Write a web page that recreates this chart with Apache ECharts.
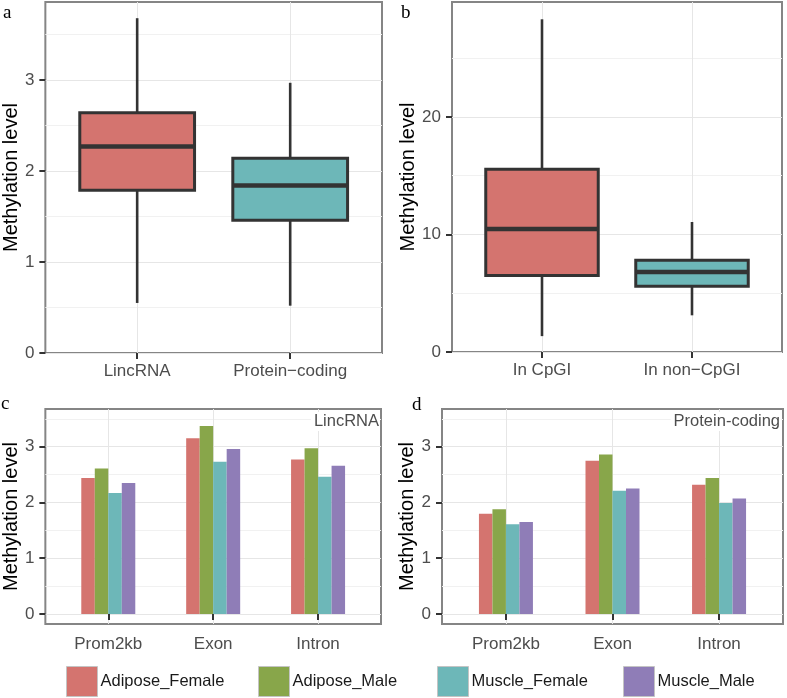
<!DOCTYPE html>
<html>
<head>
<meta charset="utf-8">
<script src="https://cdn.jsdelivr.net/npm/echarts@6/dist/echarts.min.js"></script>
<style>
html,body{margin:0;padding:0;background:#fff;}
#chart{width:787px;height:698px;}
</style>
</head>
<body>
<div id="chart"></div>
<script>
// ---------- data ----------
const aCategories = ['LincRNA', 'Protein\u2212coding'];
const aLow    = [0.55, 0.52];
const aQ1     = [1.79, 1.46];
const aMedian = [2.27, 1.84];
const aQ3     = [2.64, 2.14];
const aHigh   = [3.68, 2.97];

const bCategories = ['In CpGI', 'In non\u2212CpGI'];
const bLow    = [1.35, 3.12];
const bQ1     = [6.5, 5.59];
const bMedian = [10.47, 6.8];
const bQ3     = [15.55, 7.8];
const bHigh   = [28.3, 11.06];

const regions = ['Prom2kb', 'Exon', 'Intron'];
const groups = ['Adipose_Female', 'Adipose_Male', 'Muscle_Female', 'Muscle_Male'];

const lincAdiposeFemale = [2.44, 3.15, 2.77];
const lincAdiposeMale   = [2.61, 3.37, 2.97];
const lincMuscleFemale  = [2.17, 2.73, 2.46];
const lincMuscleMale    = [2.35, 2.96, 2.66];

const pcAdiposeFemale = [1.80, 2.75, 2.32];
const pcAdiposeMale   = [1.88, 2.86, 2.44];
const pcMuscleFemale  = [1.61, 2.21, 1.99];
const pcMuscleMale    = [1.65, 2.25, 2.07];

const aTicks = [0, 1, 2, 3];
const bTicks = [0, 10, 20];
const cdTicks = [0, 1, 2, 3];

// ---------- style ----------
const FONT = 'Liberation Sans, Arial, sans-serif';
const SERIF = 'Liberation Serif, Times New Roman, serif';
const groupColors = ['#D4746F', '#88A64A', '#6DB7B8', '#8F7DB7'];
const boxColors = ['#D4746F', '#6DB7B8'];
const LABEL_COLOR = '#4d4d4d';
const MAJOR = '#e6e6e6';
const MINOR = '#f1f1f1';

const grids = [
  {left: 43, top: 2, width: 339, height: 351},
  {left: 452, top: 2, width: 330, height: 350},
  {left: 43, top: 409, width: 338, height: 215},
  {left: 442, top: 409, width: 341, height: 215}
].map(g => Object.assign(g, {show: true, borderColor: '#858585', borderWidth: 2, backgroundColor: '#fff', containLabel: false}));

const yRanges = [[0, 3.858], [0, 29.77], [-0.179, 3.676], [-0.179, 3.676]];
const yMajor = [aTicks, bTicks, cdTicks, cdTicks];
const yMinor = [[0.5, 1.5, 2.5, 3.5], [5, 15, 25], [0.5, 1.5, 2.5, 3.5], [0.5, 1.5, 2.5, 3.5]];
const yNameGap = [24, 33, 24, 24];
const xLabelMargin = [10, 10, 12, 12];
const xCats = [aCategories, bCategories, regions, regions];

const xAxes = xCats.map((cats, gi) => ({
  type: 'value', gridIndex: gi, min: 0.4, max: cats.length + 0.6,
  axisLine: {show: false},
  axisTick: {show: true, length: 6, customValues: cats.map((c, i) => i + 1), lineStyle: {color: '#333', width: 2}},
  axisLabel: {show: true, customValues: cats.map((c, i) => i + 1), margin: xLabelMargin[gi], fontSize: 17, color: LABEL_COLOR, fontFamily: FONT,
    formatter: v => cats[Math.round(v) - 1] || ''},
  splitLine: {show: true, lineStyle: {color: MAJOR, width: 1}}
}));

const yAxes = [];
for (let gi = 0; gi < 4; gi++) {
  yAxes.push({
    type: 'value', gridIndex: gi, min: yRanges[gi][0], max: yRanges[gi][1],
    name: 'Methylation level', nameLocation: 'middle', nameGap: yNameGap[gi],
    nameTextStyle: {fontSize: 20, color: '#000', fontFamily: FONT},
    axisLine: {show: false},
    axisTick: {show: true, length: 6, customValues: yMajor[gi], lineStyle: {color: '#333', width: 2}},
    axisLabel: {show: true, customValues: yMajor[gi], margin: 11, fontSize: 17, color: LABEL_COLOR, fontFamily: FONT},
    splitLine: {show: true, lineStyle: {color: MAJOR, width: 1}}
  });
}
for (let gi = 0; gi < 4; gi++) {
  yAxes.push({
    type: 'value', gridIndex: gi, min: yRanges[gi][0], max: yRanges[gi][1],
    axisLine: {show: false},
    axisTick: {show: false, customValues: yMinor[gi]},
    axisLabel: {show: false, customValues: yMinor[gi]},
    splitLine: {show: true, lineStyle: {color: MINOR, width: 1}}
  });
}

function boxData(low, q1, med, q3, high) {
  return low.map((v, i) => [i + 1, low[i], q1[i], med[i], q3[i], high[i]]);
}

function boxRender(params, api) {
  const x = api.value(0);
  const lo = api.coord([x, api.value(1)]);
  const q1 = api.coord([x, api.value(2)]);
  const md = api.coord([x, api.value(3)]);
  const q3 = api.coord([x, api.value(4)]);
  const hi = api.coord([x, api.value(5)]);
  const half = api.size([0.75, 0])[0] / 2;
  const stroke = '#333333';
  return {
    type: 'group',
    children: [
      {type: 'line', shape: {x1: lo[0], y1: lo[1], x2: q1[0], y2: q1[1]}, style: {stroke, lineWidth: 2.6}},
      {type: 'line', shape: {x1: q3[0], y1: q3[1], x2: hi[0], y2: hi[1]}, style: {stroke, lineWidth: 2.6}},
      {type: 'rect', shape: {x: q3[0] - half, y: q3[1], width: half * 2, height: q1[1] - q3[1]},
        style: {fill: boxColors[params.dataIndex], stroke, lineWidth: 3}},
      {type: 'line', shape: {x1: md[0] - half, y1: md[1], x2: md[0] + half, y2: md[1]}, style: {stroke, lineWidth: 4.5}}
    ]
  };
}

const series = [
  {type: 'custom', xAxisIndex: 0, yAxisIndex: 0, renderItem: boxRender,
    encode: {x: 0, y: [1, 2, 3, 4, 5]}, data: boxData(aLow, aQ1, aMedian, aQ3, aHigh), silent: true},
  {type: 'custom', xAxisIndex: 1, yAxisIndex: 1, renderItem: boxRender,
    encode: {x: 0, y: [1, 2, 3, 4, 5]}, data: boxData(bLow, bQ1, bMedian, bQ3, bHigh), silent: true}
];

const lincSets = [lincAdiposeFemale, lincAdiposeMale, lincMuscleFemale, lincMuscleMale];
const pcSets = [pcAdiposeFemale, pcAdiposeMale, pcMuscleFemale, pcMuscleMale];
[[lincSets, 2], [pcSets, 3]].forEach(([sets, gi]) => {
  sets.forEach((vals, si) => {
    series.push({
      type: 'bar', name: groups[si], xAxisIndex: gi, yAxisIndex: gi,
      barWidth: 13.5, barGap: '0%',
      itemStyle: {color: groupColors[si]},
      data: vals.map((v, i) => [i + 1, v]),
      silent: true
    });
  });
});

const legendX = [66, 258, 437, 623];
const legends = groups.map((g, i) => ({
  data: [g], left: legendX[i], top: 666, orient: 'horizontal', padding: 0,
  itemWidth: 31, itemHeight: 30, icon: 'rect', selectedMode: false,
  itemStyle: {borderColor: '#c4c4c4', borderWidth: 1},
  textStyle: {fontSize: 16.5, color: '#1a1a1a', fontFamily: FONT, padding: [0, 0, 0, -2]}
}));

const option = {
  animation: false,
  backgroundColor: '#fff',
  grid: grids,
  xAxis: xAxes,
  yAxis: yAxes,
  legend: legends,
  series: series,
  graphic: [
    {type: 'text', z: 100, left: 3, top: 4, style: {text: 'a', font: '19px ' + SERIF, fill: '#000'}},
    {type: 'text', z: 100, left: 401, top: 4, style: {text: 'b', font: '19px ' + SERIF, fill: '#000'}},
    {type: 'text', z: 100, left: 1, top: 395, style: {text: 'c', font: '19px ' + SERIF, fill: '#000'}},
    {type: 'text', z: 100, left: 412, top: 396, style: {text: 'd', font: '19px ' + SERIF, fill: '#000'}},
    {type: 'text', z: 100, right: 787 - 380, top: 412, style: {text: 'LincRNA', font: '16.5px ' + FONT, fill: LABEL_COLOR,
      backgroundColor: '#fff', padding: [1, 1, 1, 3]}},
    {type: 'text', z: 100, right: 787 - 781, top: 412, style: {text: 'Protein-coding', font: '16.5px ' + FONT, fill: LABEL_COLOR,
      backgroundColor: '#fff', padding: [1, 1, 1, 3]}}
  ]
};

const chart = echarts.init(document.getElementById('chart'), null, {renderer: 'canvas'});
chart.setOption(option);
</script>
</body>
</html>
